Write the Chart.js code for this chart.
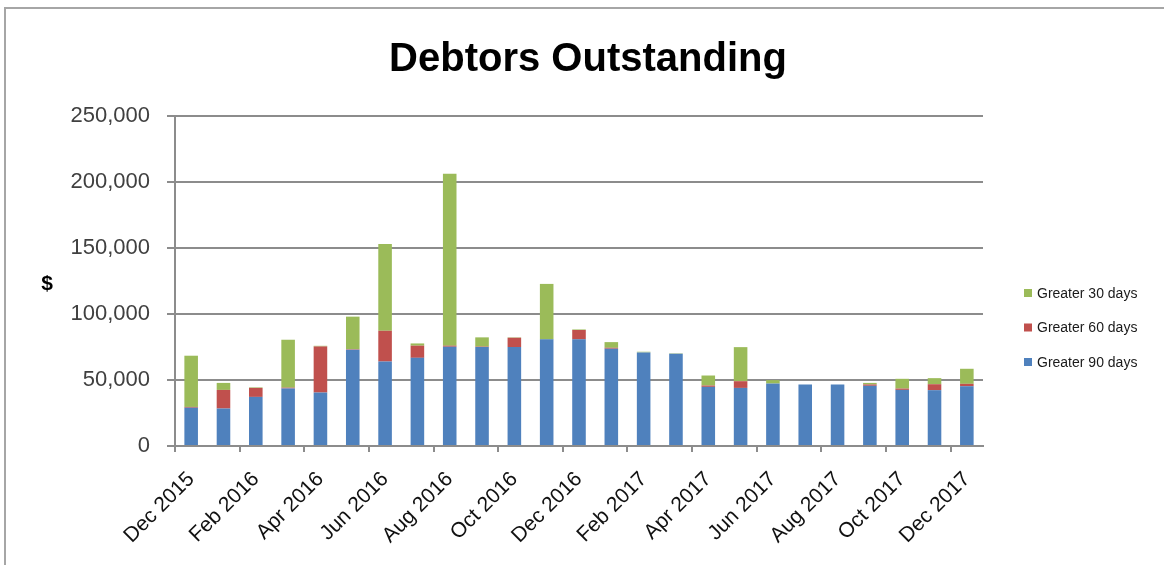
<!DOCTYPE html>
<html>
<head>
<meta charset="utf-8">
<title>Debtors Outstanding</title>
<script src="https://cdn.jsdelivr.net/npm/chart.js@4.4.1/dist/chart.umd.min.js"></script>
<style>
  html, body { margin:0; padding:0; background:#fff; overflow:hidden; }
  #wrap { position:relative; width:1164px; height:565px; }
  #frame { position:absolute; left:4px; top:7px; width:1200px; height:600px;
           border:2px solid #a6a6a6; box-sizing:border-box; }
  #chart { position:absolute; left:0; top:0; }
</style>
</head>
<body>
<div id="wrap">
  <div id="frame"></div>
  <canvas id="chart" width="1164" height="565"></canvas>
</div>
<script>
// ---------------------------
// DATA
// ---------------------------
const TITLE = "Debtors Outstanding";
const MONTHS = [
  "Dec 2015","Jan 2016","Feb 2016","Mar 2016","Apr 2016","May 2016","Jun 2016",
  "Jul 2016","Aug 2016","Sep 2016","Oct 2016","Nov 2016","Dec 2016","Jan 2017",
  "Feb 2017","Mar 2017","Apr 2017","May 2017","Jun 2017","Jul 2017","Aug 2017",
  "Sep 2017","Oct 2017","Nov 2017","Dec 2017"
];
const OVER_90 = [29000,28400,37200,43600,40500,73000,64000,66800,75200,75000,75000,80800,80800,
                 73700,70900,69900,44800,44000,47300,46600,46600,45600,42500,42300,45300];
const OVER_60 = [600,14100,6800,600,34900,400,23300,9200,800,300,7000,0,7100,
                 700,0,0,1000,5100,0,0,0,1000,1000,4500,1800];
const OVER_30 = [38800,5300,400,36300,500,24600,65700,1700,130300,7000,300,42000,400,
                 4300,500,300,7600,25800,2600,0,0,1200,7400,4600,11400];
const Y_TICKS = [0,50000,100000,150000,200000,250000];

const GRID = "#8c8c8c";
const COLORS = { d90:"#4f81bd", d60:"#c0504d", d30:"#9bbb59" };

// ---------------------------
// PLUGINS
// ---------------------------
const extras = {
  id:"extras",
  afterDraw(chart){
    const ctx = chart.ctx;
    ctx.save();
    // title
    ctx.fillStyle = "#000";
    ctx.font = "bold 40px 'Liberation Sans'";
    ctx.textAlign = "center";
    ctx.textBaseline = "alphabetic";
    ctx.fillText(TITLE, 588, 71);
    // "$" axis label
    ctx.font = "bold 21px 'Liberation Sans'";
    ctx.textBaseline = "middle";
    ctx.fillText("$", 47, 284);
    // legend, top item = last dataset
    ctx.font = "14px 'Liberation Sans'";
    ctx.textAlign = "left";
    const sets = chart.data.datasets.slice().reverse();
    sets.forEach((ds,i)=>{
      const y = 293 + i*34.5;
      ctx.fillStyle = ds.backgroundColor;
      ctx.fillRect(1024, y-4, 8, 8);
      ctx.fillStyle = "#1a1a1a";
      ctx.fillText(ds.label, 1037, y+1);
    });
    ctx.restore();
  }
};

// ---------------------------
// CHART
// ---------------------------
new Chart(document.getElementById("chart"), {
  type:"bar",
  data:{
    labels: MONTHS,
    datasets:[
      { label:"Greater 90 days", data:OVER_90, backgroundColor:COLORS.d90 },
      { label:"Greater 60 days", data:OVER_60, backgroundColor:COLORS.d60 },
      { label:"Greater 30 days", data:OVER_30, backgroundColor:COLORS.d30 },
    ]
  },
  options:{
    responsive:false,
    animation:false,
    devicePixelRatio:1,
    layout:{ padding:{ left:12, right:181, top:116, bottom:0 } },
    datasets:{ bar:{ categoryPercentage:1, barPercentage:0.42 } },
    plugins:{
      legend:{ display:false },
      tooltip:{ enabled:false },
      title:{ display:false }
    },
    scales:{
      x:{
        stacked:true,
        offset:true,
        afterFit(s){ s.height = 119; },
        grid:{
          offset:true,
          drawOnChartArea:false,
          tickLength:6,
          lineWidth:2,
          color:(c)=> (c.index % 2 === 0 ? GRID : "rgba(0,0,0,0)")
        },
        border:{ display:true, color:GRID, width:2 },
        ticks:{
          autoSkip:false,
          minRotation:45,
          maxRotation:45,
          padding:15,
          color:"#111",
          font:{ family:"'Liberation Sans'", size:21 },
          callback(v, i){ return i % 2 === 0 ? MONTHS[i] : ""; }
        }
      },
      y:{
        stacked:true,
        min:0,
        max:250000,
        afterFit(s){ s.width = 163; },
        afterBuildTicks(s){ s.ticks = Y_TICKS.map(v=>({ value:v })); },
        grid:{ color:GRID, lineWidth:2, tickLength:8 },
        border:{ display:true, color:GRID, width:2 },
        ticks:{
          padding:17,
          color:"#404040",
          font:{ family:"'Liberation Sans'", size:22 },
          callback(v){ return v.toLocaleString("en-US"); }
        }
      }
    }
  },
  plugins:[extras]
});
</script>
</body>
</html>
